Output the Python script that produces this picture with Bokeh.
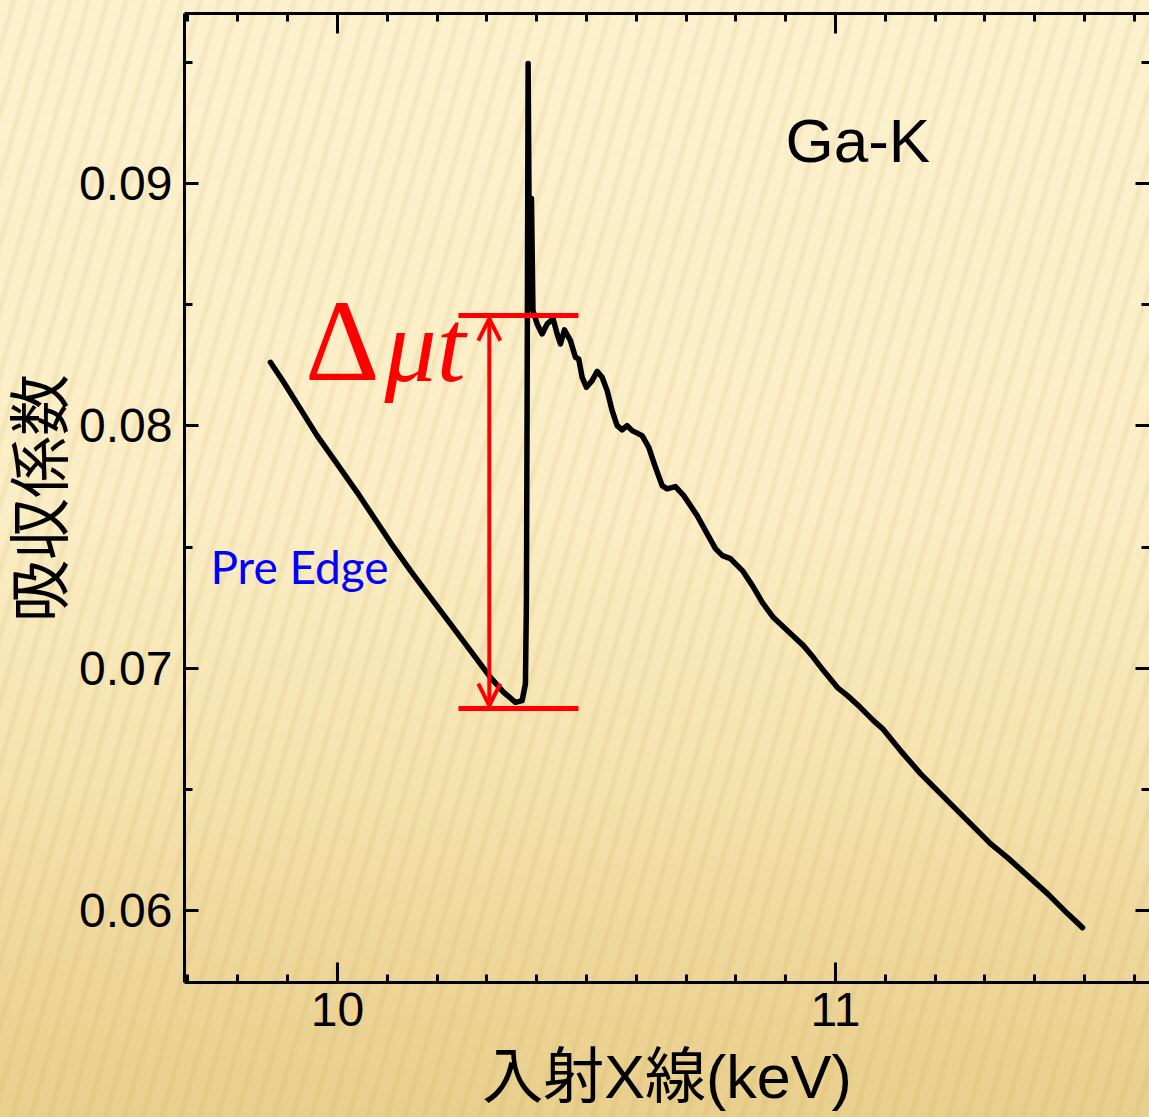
import numpy as np
from bokeh.plotting import figure
from bokeh.models import (Range1d, LinearAxis, FixedTicker, PrintfTickFormatter,
                          CustomJSTickFormatter, Label, Arrow, OpenHead, ColumnDataSource)
from bokeh.embed import file_html
from bokeh.resources import INLINE

# ---------------- data ----------------
energy_kev = [
    9.8655, 9.8922, 9.9257, 9.9592, 9.9994, 10.0396, 10.0797, 10.1064, 10.1466,
    10.1867, 10.2269, 10.2671, 10.3072, 10.3339, 10.3574, 10.3709, 10.3775,
    10.3795, 10.3809, 10.3821, 10.3829, 10.3855, 10.3896, 10.3926,
    10.4010, 10.4110, 10.4211, 10.4331, 10.4412, 10.4478, 10.4558, 10.4679,
    10.4779, 10.4845, 10.4914, 10.5000, 10.5114, 10.5215, 10.5315, 10.5416,
    10.5516, 10.5616, 10.5717, 10.5817, 10.5918, 10.6118, 10.6251, 10.6386,
    10.6520, 10.6620, 10.6787, 10.6954, 10.7223, 10.7389, 10.7590, 10.7731,
    10.7891, 10.8132, 10.8333, 10.8534, 10.8755, 10.9096, 10.9357, 10.9558,
    10.9759, 11.0040, 11.0241, 11.0502, 11.0763, 11.0944, 11.1305, 11.1707,
    11.2108, 11.2650, 11.3112, 11.3454, 11.3855, 11.4257, 11.4659, 11.4960,
]
absorption = [
    0.082625, 0.081800, 0.080702, 0.079600, 0.078432, 0.077260, 0.076022, 0.075197, 0.074029,
    0.072927, 0.071829, 0.070727, 0.069625, 0.069006, 0.068593, 0.068664, 0.069353,
    0.072791, 0.081045, 0.089298, 0.094952, 0.086822, 0.089381, 0.084759,
    0.084210, 0.083797, 0.084210, 0.084416, 0.083797, 0.083384, 0.083962, 0.083521,
    0.082832, 0.082765, 0.082006, 0.081593, 0.081870, 0.082254, 0.082006, 0.081457,
    0.080632, 0.080013, 0.079835, 0.080013, 0.079806, 0.079600, 0.079117, 0.078292,
    0.077536, 0.077400, 0.077495, 0.077124, 0.076298, 0.075679, 0.074936, 0.074648,
    0.074524, 0.074029, 0.073409, 0.072708, 0.072089, 0.071428, 0.070933, 0.070438,
    0.069902, 0.069200, 0.068870, 0.068375, 0.067838, 0.067508, 0.066600, 0.065651,
    0.064825, 0.063711, 0.062762, 0.062184, 0.061441, 0.060698, 0.059873, 0.059295,
]

# Δμt marker: edge-step levels and their horizontal bars
step_bar_x0 = [10.243, 10.243]
step_bar_x1 = [10.484, 10.484]
step_levels = [0.084553, 0.068336]
arrow_x = 10.305
arrow_tips = [0.068457, 0.084428]

x_major_ticks = [10, 11]
y_major_ticks = [0.06, 0.07, 0.08, 0.09]

title_text = "Ga-K"
pre_edge_text = "Pre Edge"
x_label = "入射X線(keV)"
y_label = "吸収係数"

# ---------------- figure ----------------
p = figure(width=1149, height=1117, output_backend="svg", toolbar_location=None,
           x_range=Range1d(9.693, 11.6305), y_range=Range1d(0.05703, 0.09702),
           x_axis_location=None, y_axis_location=None,
           min_border_left=184, min_border_right=0, min_border_top=13,
           min_border_bottom=135)
p.xgrid.visible = False
p.ygrid.visible = False
p.outline_line_color = None
p.background_fill_color = None
p.border_fill_color = None
p.styles = {
    "background-image": (
        "repeating-linear-gradient(106deg, rgba(190,150,60,0) 0px, rgba(190,150,60,0) 9px, "
        "rgba(190,150,60,0.13) 13px, rgba(190,150,60,0) 18px), "
        "linear-gradient(to bottom, #FCF1CF 0%, #FBEEC6 45%, #F5E2AE 70%, #EDD598 88%, #E9CF8C 100%)"
    ),
}

x_minor = list(np.round(np.arange(9.7, 11.65, 0.1), 2))
y_minor = list(np.round(np.arange(0.055, 0.0975, 0.005), 3))

CJK = "Liberation Sans, Noto Sans CJK JP"


def style_axis(ax, major_in, minor_in, labels):
    ax.axis_line_width = 3
    ax.axis_line_color = "black"
    ax.major_tick_line_width = 3
    ax.minor_tick_line_width = 3
    ax.major_tick_out = 0
    ax.minor_tick_out = 0
    ax.major_tick_in = major_in
    ax.minor_tick_in = minor_in
    if labels:
        ax.major_label_text_font = "Liberation Sans"
        ax.major_label_text_font_size = "48px"
        ax.major_label_text_color = "black"
    else:
        ax.formatter = CustomJSTickFormatter(code="return '';")
        ax.major_label_standoff = 0


xt = FixedTicker(ticks=x_major_ticks, minor_ticks=x_minor)
yt = FixedTicker(ticks=y_major_ticks, minor_ticks=y_minor)

below = LinearAxis(ticker=xt, formatter=PrintfTickFormatter(format="%.0f"))
style_axis(below, 20, 8, True)
below.major_label_standoff = 10
below.axis_label = x_label
below.axis_label_text_font = CJK
below.axis_label_text_font_size = "61px"
below.axis_label_text_font_style = "normal"
below.axis_label_text_color = "black"
below.axis_label_standoff = 14
p.add_layout(below, "below")

above = LinearAxis(ticker=FixedTicker(ticks=x_major_ticks, minor_ticks=x_minor))
style_axis(above, 20, 8, False)
p.add_layout(above, "above")

left = LinearAxis(ticker=yt, formatter=PrintfTickFormatter(format="%.2f"))
style_axis(left, 14, 8, True)
left.major_label_standoff = 12
left.axis_label = y_label
left.axis_label_text_font = CJK
left.axis_label_text_font_size = "62px"
left.axis_label_text_font_style = "normal"
left.axis_label_text_color = "black"
left.axis_label_standoff = 0
p.add_layout(left, "left")

right = LinearAxis(ticker=FixedTicker(ticks=y_major_ticks, minor_ticks=y_minor))
style_axis(right, 14, 8, False)
right.axis_line_color = None
p.add_layout(right, "right")

# ---------------- spectrum ----------------
src = ColumnDataSource(data=dict(x=energy_kev, y=absorption))
p.line("x", "y", source=src, line_color="black", line_width=5.5,
       line_join="round", line_cap="round")

# ---------------- Δμt marker ----------------
bars = ColumnDataSource(data=dict(x0=step_bar_x0, x1=step_bar_x1, y=step_levels))
p.segment(x0="x0", y0="y", x1="x1", y1="y", source=bars, line_color="#FF0000", line_width=5)
p.add_layout(Arrow(x_start=arrow_x, y_start=arrow_tips[0], x_end=arrow_x, y_end=arrow_tips[1],
                   line_color="#FF0000", line_width=4,
                   start=OpenHead(size=22, line_color="#FF0000", line_width=4),
                   end=OpenHead(size=22, line_color="#FF0000", line_width=4)))

p.add_layout(Label(x=9.935, y=0.083521, text="Δ", text_font="Liberation Serif",
                   text_font_size="116px", text_color="#FF0000", text_baseline="alphabetic"))
p.add_layout(Label(x=10.0944, y=0.083335, text="μt", text_font="Liberation Serif",
                   text_font_style="italic", text_font_size="104px", text_color="#FF0000",
                   text_baseline="alphabetic"))

# ---------------- texts ----------------
p.add_layout(Label(x=10.8996, y=0.091775, text=title_text, text_font="Liberation Sans",
                   text_font_size="62px", text_color="black", text_baseline="alphabetic"))
p.add_layout(Label(x=9.745, y=0.074193, text=pre_edge_text, text_font="Lato",
                   text_font_size="46px", text_color="#0000FF", text_baseline="alphabetic"))

open("out.html", "w").write(file_html(p, INLINE))
